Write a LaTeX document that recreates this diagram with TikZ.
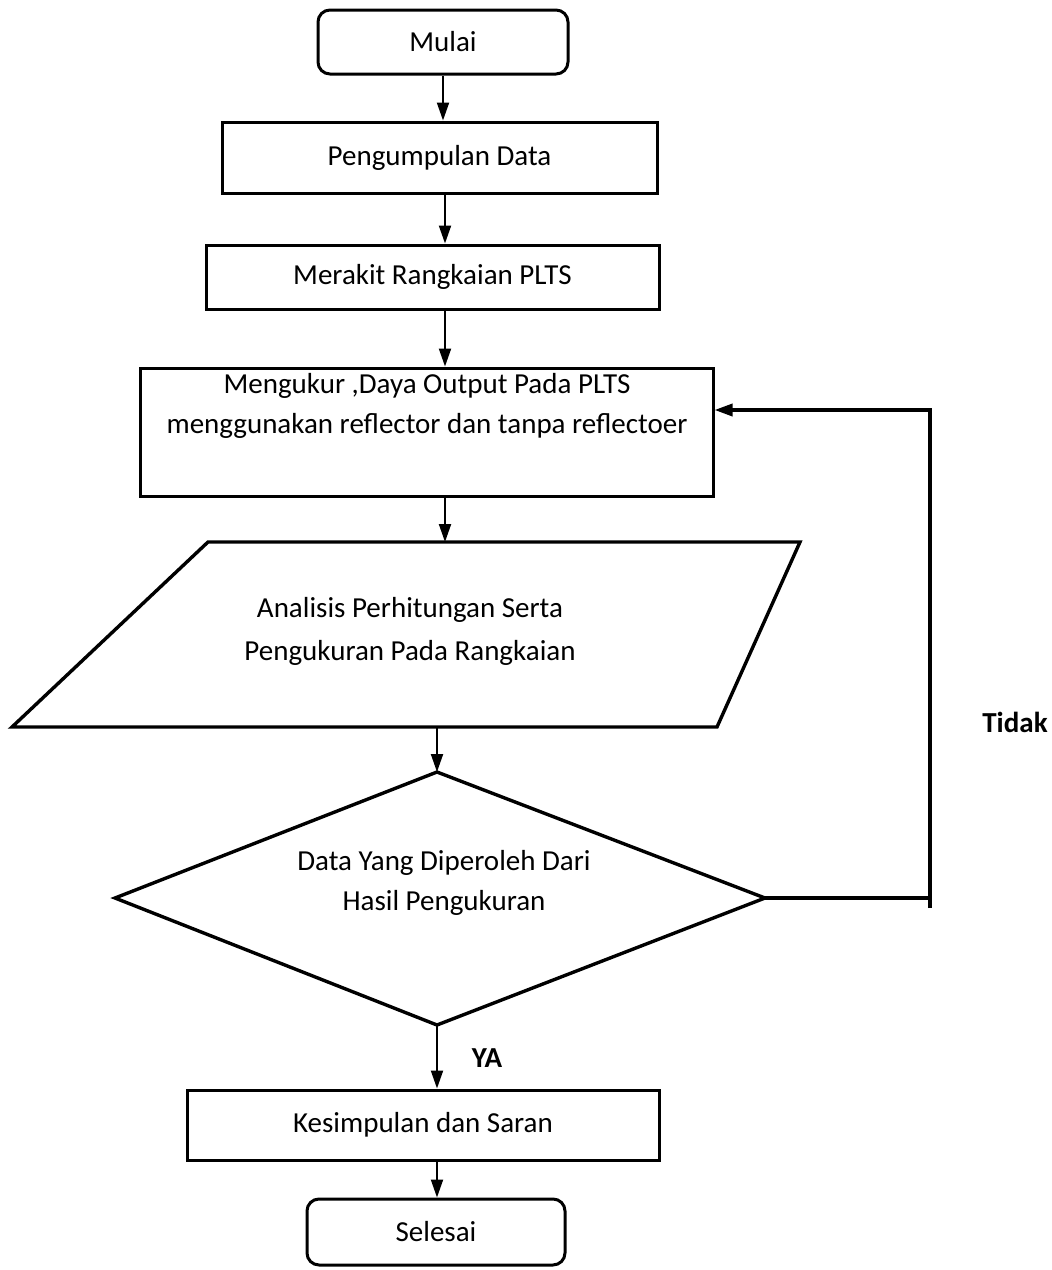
\documentclass[tikz,border=0pt]{standalone}
\usepackage{fontspec}
\setmainfont{Carlito}
\usetikzlibrary{arrows.meta,shapes.geometric}
\begin{document}
\begin{tikzpicture}[x=0.5pt,y=-0.5pt,
  font=\fontsize{14.5pt}{21.5pt}\selectfont,
  boxbase/.style={draw,line width=1.5pt,inner sep=0pt,align=center},
  termbox/.style={boxbase,rounded corners=6pt},
  arr/.style={line width=1pt,-{Triangle[length=9pt,width=6pt]}},
  thick line/.style={line width=1.7pt},
  lbl/.style={font=\fontsize{14.5pt}{16pt}\selectfont\bfseries}]
\useasboundingbox (0,0) rectangle (1051,1270);
% nodes
\node[termbox,minimum width=125pt,minimum height=32pt] (mulai) at (443,42) {Mulai};
\node[boxbase,minimum width=217.5pt,minimum height=35.5pt] (peng) at (439.5,157.5) {Pengumpulan Data};
\node[boxbase,minimum width=226.5pt,minimum height=32pt] (mer) at (432.5,277) {Merakit Rangkaian PLTS};
\node[boxbase,minimum width=286.5pt,minimum height=64pt] (meng) at (426.5,432) {};
\node[align=center,font=\fontsize{14.5pt}{20pt}\selectfont] (mengt) at (427,406) {Mengukur ,Daya Output Pada PLTS\\menggunakan reflector dan tanpa reflectoer};
% parallelogram
\coordinate (ptl) at (208,542);
\coordinate (ptr) at (800,542);
\coordinate (pbr) at (717,727);
\coordinate (pbl) at (12,727);
\draw[thick line,line join=miter] (ptl) -- (ptr) -- (pbr) -- (pbl) -- cycle;
\node[align=center] (anal) at (410,631) {Analisis Perhitungan Serta\\Pengukuran Pada Rangkaian};
% diamond
\coordinate (dt) at (437,772);
\coordinate (dl) at (115,898);
\coordinate (dr) at (765,898);
\coordinate (db) at (437,1025);
\draw[thick line,line join=miter] (dt) -- (dr) -- (db) -- (dl) -- cycle;
\node[align=center,font=\fontsize{14.5pt}{20pt}\selectfont] (dec) at (444,883) {Data Yang Diperoleh Dari\\Hasil Pengukuran};
\node[boxbase,minimum width=236pt,minimum height=35pt] (kes) at (423,1125) {Kesimpulan dan Saran};
\node[termbox,minimum width=129pt,minimum height=33pt] (sel) at (436,1232) {Selesai};
\node[lbl] (tidak) at (1015,722) {Tidak};
\node[lbl] (ya) at (487,1058) {YA};
% axis helpers
\coordinate (ax1) at (445,0);
\coordinate (ax2) at (437,0);
\coordinate (fbx) at (930,0);
\coordinate (fby) at (0,410);
\coordinate (pbot) at (437,727);
% connectors
\draw[arr] (mulai.south) -- (mulai.south |- peng.north);
\draw[arr] (peng.south -| ax1) -- (mer.north -| ax1);
\draw[arr] (mer.south -| ax1) -- (meng.north -| ax1);
\draw[arr] (meng.south -| ax1) -- (ptl -| ax1);
\draw[arr] (pbot) -- (dt);
\draw[arr] (db) -- (kes.north -| ax2);
\draw[arr] (kes.south -| ax2) -- (sel.north -| ax2);
\coordinate (fb1) at (dr -| fbx);
\coordinate (fb2) at (930,908);
\coordinate (fb3) at (fby -| fbx);
\draw[thick line] (dr) -- (fb1);
\draw[thick line,-{Triangle[length=9pt,width=6pt]}] (fb2) -- (fb3) -- (fby -| meng.east);
\end{tikzpicture}
\end{document}
